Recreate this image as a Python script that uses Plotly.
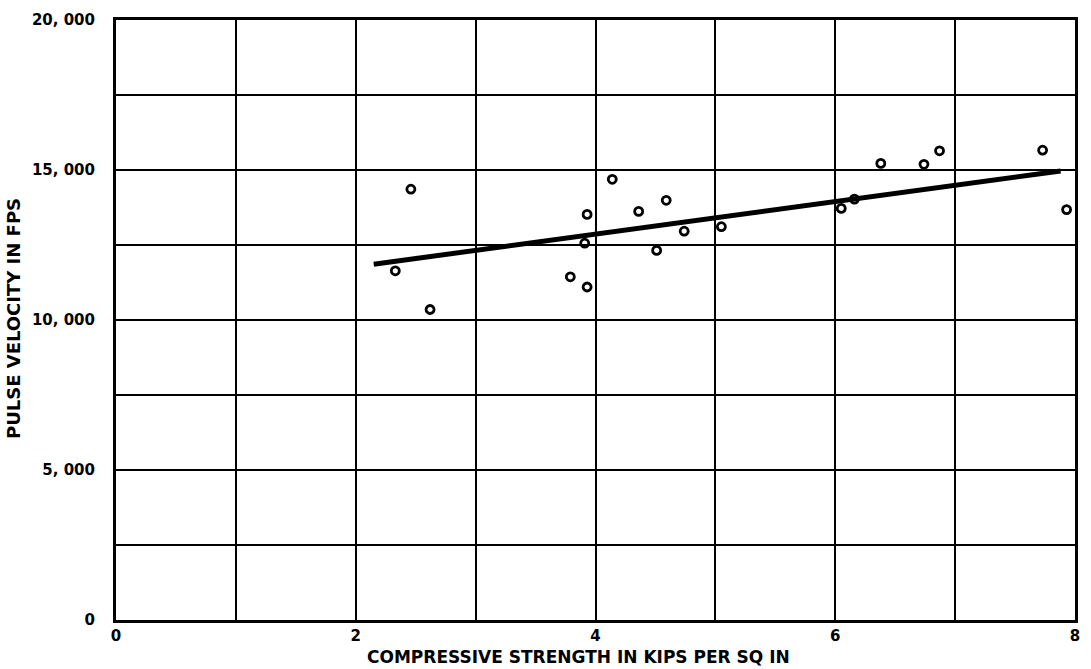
import plotly.graph_objects as go

# Test specimens: compressive strength (kips per sq in) vs. pulse velocity (fps)
strength_ksi = [2.33, 2.46, 2.62, 3.79, 3.91, 3.93, 3.93, 4.14, 4.36, 4.51,
                4.59, 4.74, 5.05, 6.05, 6.16, 6.38, 6.74, 6.87, 7.73, 7.93]
velocity_fps = [11640, 14360, 10350, 11440, 12560, 13520, 11100, 14690, 13620, 12320,
                13990, 12960, 13110, 13720, 14030, 15220, 15190, 15640, 15660, 13680]

# Fitted trend line end points
trend_strength = [2.15, 7.88]
trend_velocity = [11860, 14970]

x_ticks = [0, 1, 2, 3, 4, 5, 6, 7, 8]
x_tick_text = ["0", "", "2", "", "4", "", "6", "", "8"]
y_ticks = [0, 2500, 5000, 7500, 10000, 12500, 15000, 17500, 20000]
y_tick_text = ["0", "", "5, 000", "", "10, 000", "", "15, 000", "", "20, 000"]

FONT = "DejaVu Sans"

fig = go.Figure()
fig.add_trace(go.Scatter(
    x=trend_strength, y=trend_velocity, mode="lines",
    line=dict(color="black", width=5), hoverinfo="skip", showlegend=False,
))
fig.add_trace(go.Scatter(
    x=strength_ksi, y=velocity_fps, mode="markers",
    marker=dict(symbol="circle-open", size=8, color="black", line=dict(width=2.8)),
    showlegend=False,
))

axis_common = dict(
    showgrid=True, gridcolor="black", gridwidth=1.6,
    showline=True, linecolor="black", linewidth=3, mirror=True,
    zeroline=False, ticks="",
    tickfont=dict(family=FONT, size=15, color="black", weight="bold"),
)

fig.update_xaxes(range=[0, 8], tickvals=x_ticks, ticktext=x_tick_text,
                 ticklabelstandoff=0, **axis_common)
fig.update_yaxes(range=[0, 20000], tickvals=y_ticks, ticktext=y_tick_text,
                 ticklabelstandoff=15, **axis_common)

fig.update_layout(
    width=1091, height=669,
    margin=dict(l=116, r=11, t=13, b=49),
    paper_bgcolor="white", plot_bgcolor="white",
    annotations=[
        dict(text="COMPRESSIVE STRENGTH IN KIPS PER SQ IN",
             xref="paper", yref="paper", x=(581 - 116) / 964, y=-(657 - 620) / 607,
             xanchor="center", yanchor="middle", showarrow=False,
             font=dict(family=FONT, size=17, color="black", weight="bold")),
        dict(text="PULSE VELOCITY IN FPS", textangle=-90,
             xref="paper", yref="paper", x=-(116 - 13) / 964, y=(620 - 315) / 607,
             xanchor="center", yanchor="middle", showarrow=False,
             font=dict(family=FONT, size=18, color="black", weight="bold")),
    ],
)

fig.write_html("out.html")
